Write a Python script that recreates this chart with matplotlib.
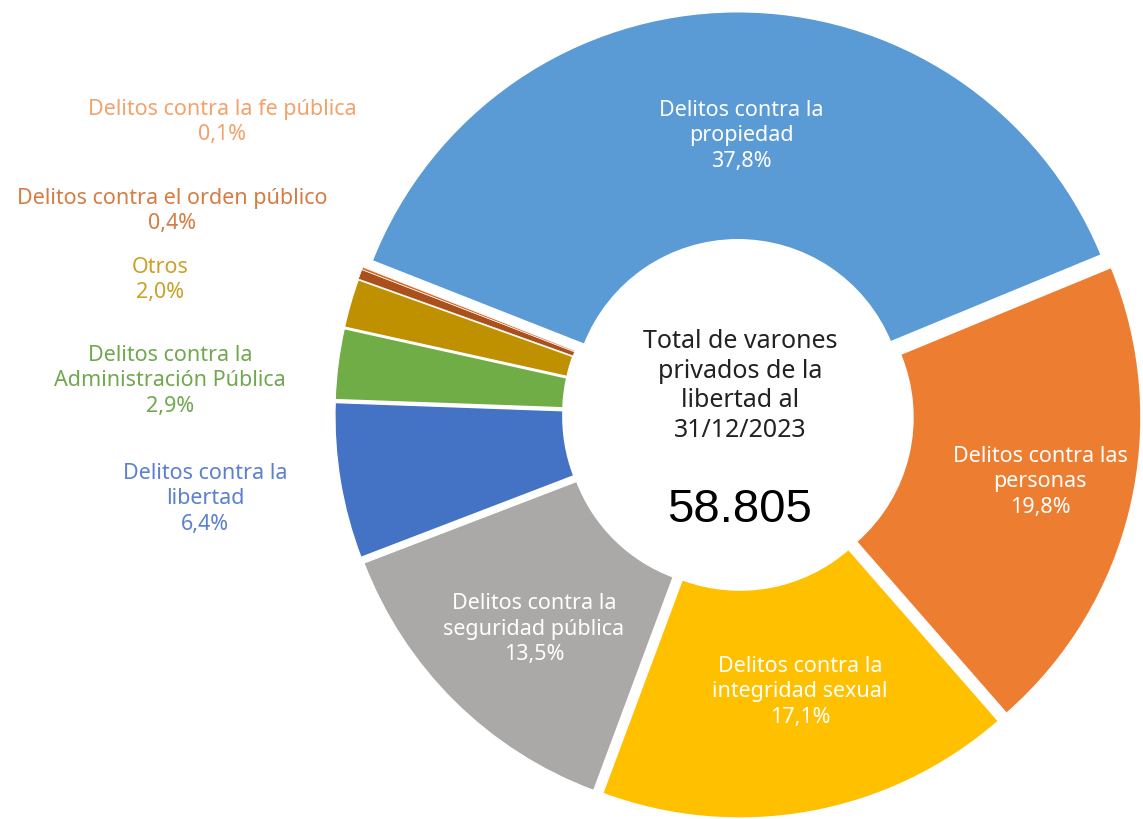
import matplotlib
matplotlib.use("Agg")
import matplotlib.pyplot as plt

W, H = 1143, 819

categories = [
    "Delitos contra la\npropiedad",
    "Delitos contra las\npersonas",
    "Delitos contra la\nintegridad sexual",
    "Delitos contra la\nseguridad pública",
    "Delitos contra la\nlibertad",
    "Delitos contra la\nAdministración Pública",
    "Otros",
    "Delitos contra el orden público",
    "Delitos contra la fe pública",
]
shares = [37.8, 19.8, 17.1, 13.5, 6.4, 2.9, 2.0, 0.4, 0.1]
total = "58.805"

slice_colors = ["#5B9BD5", "#ED7D31", "#FFC000", "#ABA9A8", "#4472C4",
                "#70AD47", "#BF9000", "#A9501D", "#D86A2B"]
label_colors = ["white", "white", "white", "white", "#5B80CF",
                "#70A84F", "#C9A227", "#D47C42", "#F4A26B"]

# label centre positions in pixels (x, y from top)
label_pos = [(741, 136), (1040, 482), (800, 692), (534, 629),
             (205, 499), (170, 381), (160, 280), (172, 211), (222, 122)]

# pie centre and outer radius in pixels
cx, cy, R = 738, 415, 393

fig = plt.figure(figsize=(W / 100, H / 100), dpi=100)
ax = fig.add_axes([0, 0, 1, 1])

wedges, _ = ax.pie(shares, colors=slice_colors, startangle=158.5, counterclock=False,
                   radius=1, explode=[0.026] * len(shares),
                   wedgeprops=dict(width=0.58, edgecolor="white", linewidth=1.0))
# thin slices would disappear under the white edges
for w, v in zip(wedges, shares):
    if v < 1:
        w.set_linewidth(0.4)

ax.set_xlim(-cx / R, (W - cx) / R)
ax.set_ylim(-(H - cy) / R, cy / R)
ax.set_aspect("equal")
ax.axis("off")

font = "Noto Sans"
for cat, val, col, (px, py) in zip(categories, shares, label_colors, label_pos):
    txt = cat + "\n" + f"{val:.1f}".replace(".", ",") + "%"
    fig.text(px / W, 1 - py / H, txt, ha="center", va="center", color=col,
             fontsize=15.5, family=font, linespacing=1.3)

fig.text(740 / W, 1 - 386 / H, "Total de varones\nprivados de la\nlibertad al\n31/12/2023",
         ha="center", va="center", fontsize=18, family=font, color="#222222",
         linespacing=1.25)
fig.text(740 / W, 1 - 510 / H, total, ha="center", va="center", fontsize=34,
         family="Liberation Sans", color="black")

fig.savefig("out.png", dpi=100, facecolor="white")
